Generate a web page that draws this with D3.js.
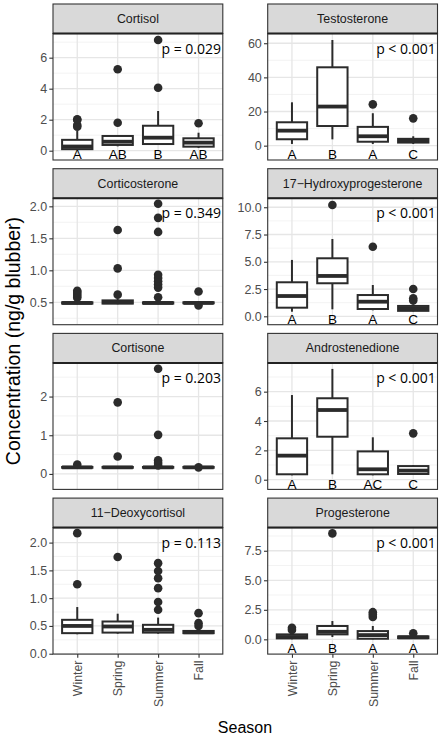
<!DOCTYPE html>
<html><head><meta charset="utf-8">
<script src="https://cdn.jsdelivr.net/npm/d3@7"></script>
<style>body{margin:0;background:#fff}svg{display:block}</style>
</head><body>
<script>
// ---------- data ----------
const seasons = ["Winter", "Spring", "Summer", "Fall"];
const hormones = ["Cortisol", "Testosterone", "Corticosterone", "17\u2212Hydroxyprogesterone",
  "Cortisone", "Androstenedione", "11\u2212Deoxycortisol", "Progesterone"];
const pLabels = ["p = 0.029", "p < 0.001", "p = 0.349", "p < 0.001",
  "p = 0.203", "p < 0.001", "p = 0.113", "p < 0.001"];
const groupLetters = [
  ["A", "AB", "B", "AB"], ["A", "B", "A", "C"], ["", "", "", ""], ["A", "B", "A", "C"],
  ["", "", "", ""], ["A", "B", "AC", "C"], ["", "", "", ""], ["A", "B", "A", "A"]];
const yLimits = [[-0.6, 7.56], [-8.4, 65.7], [0.15, 2.127], [-0.77, 10.83],
  [-0.40, 2.87], [-0.66, 7.96], [-0.007, 2.27], [-1.25, 9.46]];
const yTicks = [[0, 2, 4, 6], [0, 20, 40, 60], [0.5, 1.0, 1.5, 2.0], [0, 2.5, 5, 7.5, 10],
  [0, 1, 2], [0, 2, 4, 6], [0, 0.5, 1, 1.5, 2], [0, 2.5, 5, 7.5]];
const yTickFormats = ["d", "d", ".1f", ".1f", "d", "d", ".1f", ".1f"];

// box stats per season: [whiskerLow, q1, median, q3, whiskerHigh]
const boxCortisol = [[0.05, 0.1, 0.27, 0.7, 1.27], [0.28, 0.37, 0.58, 0.95, 1.0], [0.4, 0.43, 0.84, 1.61, 2.56], [0.18, 0.26, 0.52, 0.8, 1.16]];
const boxTestosterone = [[1.0, 3.75, 8.8, 13.7, 25.4], [3.7, 11.5, 22.9, 45.9, 61.9], [1.0, 2.3, 5.5, 11.0, 19.0], [1.0, 1.8, 2.8, 4.0, 5.5]];
const boxCorticosterone = [[0.47, 0.48, 0.49, 0.5, 0.52], [0.47, 0.48, 0.5, 0.53, 0.56], [0.47, 0.48, 0.49, 0.5, 0.52], [0.48, 0.485, 0.49, 0.5, 0.52]];
const boxHydroxyprog = [[0.42, 0.79, 1.86, 3.12, 5.17], [0.64, 3.03, 3.7, 5.32, 7.09], [0.55, 0.67, 1.34, 1.95, 2.87], [0.45, 0.5, 0.72, 0.95, 1.1]];
const boxCortisone = [[0.15, 0.16, 0.17, 0.18, 0.2], [0.15, 0.16, 0.17, 0.18, 0.2], [0.15, 0.16, 0.17, 0.18, 0.2], [0.15, 0.16, 0.17, 0.18, 0.2]];
const boxAndrostenedione = [[0.3, 0.37, 1.64, 2.82, 5.77], [0.37, 2.93, 4.75, 5.55, 7.55], [0.3, 0.37, 0.71, 1.93, 2.89], [0.35, 0.39, 0.62, 0.93, 1.0]];
const boxDeoxycortisol = [[0.35, 0.37, 0.5, 0.61, 0.84], [0.36, 0.38, 0.49, 0.58, 0.72], [0.36, 0.38, 0.43, 0.52, 0.65], [0.36, 0.37, 0.385, 0.41, 0.43]];
const boxProgesterone = [[0.0, 0.08, 0.2, 0.42, 0.6], [0.2, 0.42, 0.64, 1.13, 1.55], [0.0, 0.05, 0.36, 0.7, 1.13], [0.05, 0.1, 0.17, 0.25, 0.35]];

// outliers per season
const outCortisol = [[1.55, 1.65, 2.0, 2.02], [1.8, 5.25], [4.06, 7.14], [1.77]];
const outTestosterone = [[], [], [24.2], [16.0]];
const outCorticosterone = [[0.57, 0.6, 0.63, 0.66, 0.68], [0.62, 1.03, 1.63], [0.58, 0.73, 0.78, 0.83, 0.88, 0.93, 1.6, 1.82, 2.04], [0.45, 0.67]];
const outHydroxyprog = [[], [10.21], [6.38], [1.45, 1.65, 2.5]];
const outCortisone = [[0.24], [0.45, 1.85], [0.22, 0.28, 0.35, 1.01, 2.72], [0.17]];
const outAndrostenedione = [[], [], [], [3.16]];
const outDeoxycortisol = [[1.25, 2.17], [1.74], [0.79, 0.93, 1.18, 1.36, 1.49, 1.63], [0.5, 0.55, 0.73]];
const outProgesterone = [[0.8, 0.98], [8.97], [1.9, 2.1, 2.3], [0.52]];

const boxStats = [boxCortisol, boxTestosterone, boxCorticosterone, boxHydroxyprog,
  boxCortisone, boxAndrostenedione, boxDeoxycortisol, boxProgesterone];
const outliers = [outCortisol, outTestosterone, outCorticosterone, outHydroxyprog,
  outCortisone, outAndrostenedione, outDeoxycortisol, outProgesterone];

// ---------- layout ----------
const W = 443, H = 735;
const colX = [53, 267.7], panelW = 169.8;
const rowTop = [4, 168.7, 333.4, 498.1];
const stripH = 29.5, plotH = 126.5;
const ink = "#2b2b2b";

const svg = d3.select("body").append("svg").attr("width", W).attr("height", H)
  .style("font-family", "'Liberation Sans', Arial, sans-serif");

hormones.forEach((name, i) => {
  const col = i % 2, row = Math.floor(i / 2);
  const x0 = colX[col], top = rowTop[row];
  const py0 = top + stripH, py1 = py0 + plotH;
  const x = d3.scalePoint().domain(seasons).range([x0, x0 + panelW]).padding(0.6);
  const y = d3.scaleLinear().domain(yLimits[i]).range([py1, py0]);
  const g = svg.append("g");
  const bw = x.step() * 0.75;

  g.append("rect").attr("x", x0).attr("y", py0).attr("width", panelW).attr("height", plotH).attr("fill", "#fff");

  // minor grid
  const ticks = yTicks[i];
  const step = ticks[1] - ticks[0];
  const [d0, d1] = yLimits[i];
  const minors = [];
  for (let v = ticks[0] - step / 2; v <= d1; v += step) if (v >= d0) minors.push(v);
  g.selectAll(".mn").data(minors).join("line")
    .attr("x1", x0).attr("x2", x0 + panelW).attr("y1", d => y(d)).attr("y2", d => y(d))
    .attr("stroke", "#f0f0f0").attr("stroke-width", 0.8);
  g.selectAll(".mj").data(ticks).join("line")
    .attr("x1", x0).attr("x2", x0 + panelW).attr("y1", d => y(d)).attr("y2", d => y(d))
    .attr("stroke", "#e6e6e6").attr("stroke-width", 1.3);
  g.selectAll(".vx").data(seasons).join("line")
    .attr("x1", d => x(d)).attr("x2", d => x(d)).attr("y1", py0).attr("y2", py1)
    .attr("stroke", "#e6e6e6").attr("stroke-width", 1.3);

  // boxes
  const st = boxStats[i];
  seasons.forEach((s, k) => {
    const [lo, q1, med, q3, hi] = st[k];
    const cx = x(s);
    g.append("line").attr("x1", cx).attr("x2", cx).attr("y1", y(q3)).attr("y2", y(hi)).attr("stroke", ink).attr("stroke-width", 2);
    g.append("line").attr("x1", cx).attr("x2", cx).attr("y1", y(q1)).attr("y2", y(lo)).attr("stroke", ink).attr("stroke-width", 2);
    g.append("rect").attr("x", cx - bw / 2).attr("y", y(q3)).attr("width", bw)
      .attr("height", Math.max(0, y(q1) - y(q3))).attr("fill", "#fff").attr("stroke", ink).attr("stroke-width", 2);
    g.append("line").attr("x1", cx - bw / 2).attr("x2", cx + bw / 2).attr("y1", y(med)).attr("y2", y(med))
      .attr("stroke", ink).attr("stroke-width", 3.8);
    g.selectAll(null).data(outliers[i][k]).join("circle")
      .attr("cx", cx).attr("cy", d => y(d)).attr("r", 4.3).attr("fill", ink);
  });

  // group letters
  g.selectAll(".lt").data(seasons).join("text")
    .attr("x", d => x(d)).attr("y", py1 - 0.8).attr("text-anchor", "middle")
    .attr("font-size", 13.5).attr("fill", "#000")
    .text((d, k) => groupLetters[i][k]);

  // p-value
  g.append("text").attr("x", x0 + panelW - 1.8).attr("y", y(d1) + 20)
    .attr("text-anchor", "end").attr("font-family", "'Open Sans', sans-serif")
    .attr("font-size", 14).attr("fill", "#000").text(pLabels[i]);

  // border
  g.append("rect").attr("x", x0).attr("y", py0).attr("width", panelW).attr("height", plotH)
    .attr("fill", "none").attr("stroke", "#333").attr("stroke-width", 1.1);

  // strip
  g.append("rect").attr("x", x0).attr("y", top).attr("width", panelW).attr("height", stripH)
    .attr("fill", "#d9d9d9").attr("stroke", "#333").attr("stroke-width", 1.1);
  g.append("line").attr("x1", x0).attr("x2", x0 + panelW).attr("y1", py0).attr("y2", py0)
    .attr("stroke", "#222").attr("stroke-width", 2);
  g.append("text").attr("x", x0 + panelW / 2).attr("y", top + stripH / 2).attr("dy", "0.35em")
    .attr("text-anchor", "middle").attr("font-size", 12.4).attr("fill", "#1a1a1a").text(name);

  // y axis
  const ya = g.append("g").attr("transform", `translate(${x0},0)`)
    .call(d3.axisLeft(y).tickValues(ticks).tickSize(3.7).tickPadding(2.2).tickFormat(d3.format(yTickFormats[i])));
  ya.select(".domain").remove();
  ya.selectAll("line").attr("stroke", "#333").attr("stroke-width", 1.1);
  ya.selectAll("text").attr("fill", "#4d4d4d").attr("font-size", 12.5).attr("font-family", "'Liberation Sans', Arial, sans-serif");

  // x axis on bottom row
  if (row === 3) {
    const xa = g.append("g").attr("transform", `translate(0,${py1})`)
      .call(d3.axisBottom(x).tickSize(3.7).tickPadding(2.2));
    xa.select(".domain").remove();
    xa.selectAll("line").attr("stroke", "#333").attr("stroke-width", 1.1);
    xa.selectAll("text").attr("fill", "#4d4d4d").attr("font-size", 12.3)
      .attr("font-family", "'Liberation Sans', Arial, sans-serif")
      .attr("transform", "rotate(-90)").attr("x", -6.5).attr("y", 0).attr("dy", "0.35em")
      .attr("text-anchor", "end");
  }
});

svg.append("text").attr("transform", "translate(13,341) rotate(-90)").attr("dy", "0.35em")
  .attr("text-anchor", "middle").attr("font-size", 19.5).attr("fill", "#000")
  .text("Concentration (ng/g blubber)");
svg.append("text").attr("x", 245).attr("y", 733).attr("text-anchor", "middle")
  .attr("font-size", 16).attr("fill", "#000").text("Season");
</script>
</body></html>
